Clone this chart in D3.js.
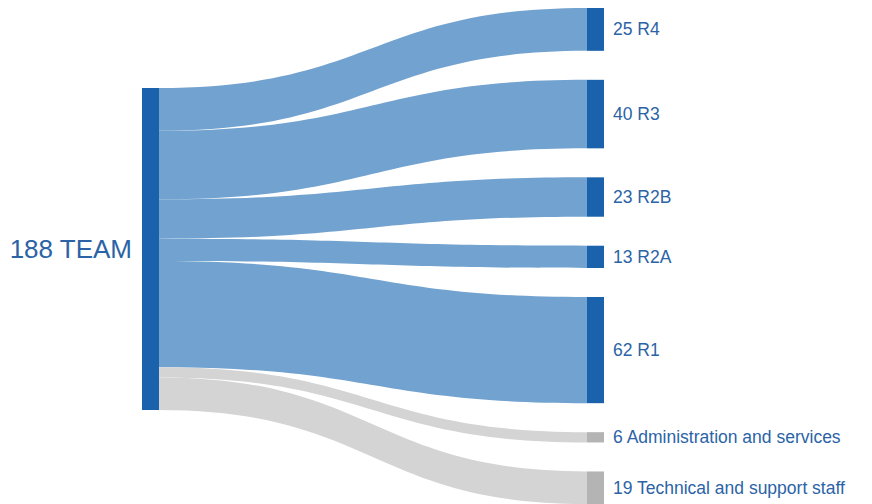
<!DOCTYPE html>
<html>
<head>
<meta charset="utf-8">
<script src="https://cdn.jsdelivr.net/npm/d3@7"></script>
<style>
  body { margin: 0; background: #fff; }
  svg { display: block; font-family: "Liberation Sans", Arial, sans-serif; }
</style>
</head>
<body>
<svg id="chart" width="872" height="504"></svg>
<script>
'use strict';

// data
const sourceName = "TEAM";
const targetNames = ["R4", "R3", "R2B", "R2A", "R1", "Administration and services", "Technical and support staff"];
const targetValues = [25, 40, 23, 13, 62, 6, 19];
const targetGroups = ["research", "research", "research", "research", "research", "staff", "staff"];

const WIDTH = 872, HEIGHT = 504;
const NODE_W = 17, PAD = 29;
const xSource = 142, xTarget = 587;
const topY = 8, sourceTop = 88;

const total = d3.sum(targetValues);
const svg = d3.select("#chart");

// value -> pixel height
let k = d3.scaleLinear().domain([0, total]).range([0, 322]);

let nodeColor = d3.scaleOrdinal().domain(["research", "staff"]).range(["#1a62ab", "#b4b4b4"]);
let linkColor = d3.scaleOrdinal().domain(["research", "staff"]).range(["#72a2cf", "#d4d4d4"]);

// layout targets and the bands on the source side
let nodes = [];
let yT = topY, yS = sourceTop;
targetValues.forEach(function (v, i) {
  let h = k(v);
  nodes.push({name: targetNames[i], value: v, group: targetGroups[i],
    y0: yT, y1: yT + h, s0: yS, s1: yS + h});
  yT += h + PAD;
  yS += h;
});

// links as filled bands
let x0 = xSource + NODE_W, x1 = xTarget, xm = (x0 + x1) / 2;
let band = function (d) {
  return "M" + x0 + "," + d.s0 +
    "C" + xm + "," + d.s0 + " " + xm + "," + d.y0 + " " + x1 + "," + d.y0 +
    "L" + x1 + "," + d.y1 +
    "C" + xm + "," + d.y1 + " " + xm + "," + d.s1 + " " + x0 + "," + d.s1 + "Z";
};

svg.append("g")
  .selectAll("path")
  .data(nodes)
  .enter().append("path")
  .attr("d", band)
  .attr("fill", d => linkColor(d.group));

// source node
svg.append("rect")
  .attr("x", xSource).attr("y", sourceTop)
  .attr("width", NODE_W).attr("height", k(total))
  .attr("fill", nodeColor("research"));

svg.append("text")
  .attr("x", xSource - 10).attr("y", sourceTop + k(total) / 2)
  .attr("text-anchor", "end").attr("dominant-baseline", "central")
  .attr("font-size", 26).attr("fill", "#2b63a6")
  .text(total + " " + sourceName);

// target nodes
let tg = svg.append("g");
tg.selectAll("rect")
  .data(nodes)
  .enter().append("rect")
  .attr("x", xTarget).attr("y", d => d.y0)
  .attr("width", NODE_W).attr("height", d => d.y1 - d.y0)
  .attr("fill", d => nodeColor(d.group));

tg.selectAll("text")
  .data(nodes)
  .enter().append("text")
  .attr("x", xTarget + NODE_W + 9).attr("y", d => (d.y0 + d.y1) / 2)
  .attr("dominant-baseline", "central")
  .attr("font-size", 17.5).attr("fill", "#2b63a6")
  .text(d => d.value + " " + d.name);
</script>
</body>
</html>
